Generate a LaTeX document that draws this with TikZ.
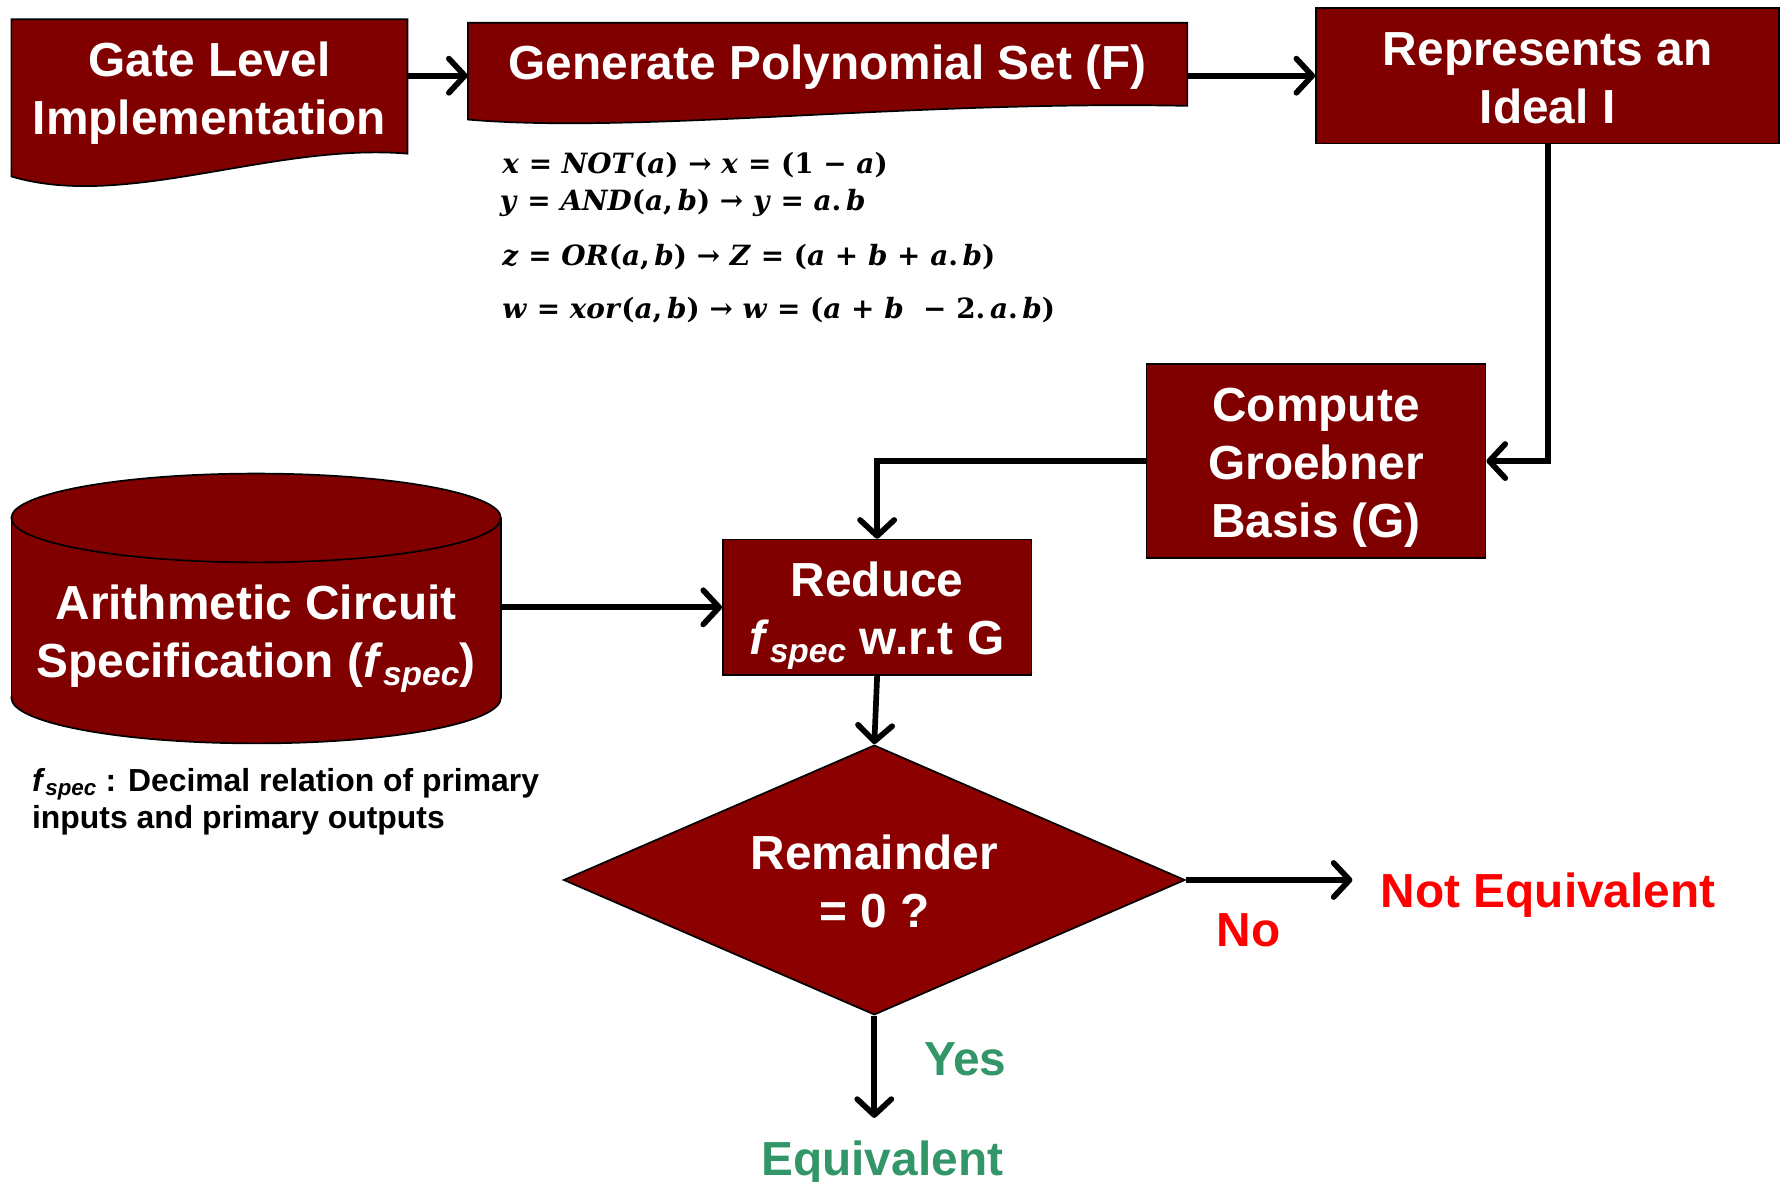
\documentclass[tikz,border=0pt]{standalone}
\usepackage[no-math]{fontspec}
\setmainfont{Liberation Sans}
\newfontfamily\eqfont{DejaVu Serif}
\usetikzlibrary{arrows.meta,shapes.geometric,calc}
\definecolor{boxred}{RGB}{128,0,0}
\definecolor{diared}{RGB}{140,0,0}
\definecolor{yesgreen}{RGB}{50,150,105}
\definecolor{nored}{RGB}{255,0,0}
\newcommand{\fsub}{\textit{f}\textsubscript{\textit{spec}}}
\newcommand{\mv}[1]{\textit{#1}}
\begin{document}
\begin{tikzpicture}[x=1pt,y=-1pt,
  big/.style={font=\fontsize{42}{51}\selectfont\bfseries, text=white, align=center, inner sep=0pt},
  label/.style={font=\fontsize{42}{51}\selectfont\bfseries, inner sep=0pt, anchor=base},
  blockbox/.style={draw=black, line width=1.5pt, fill=boxred},
  outline/.style={fill=boxred, draw=black, line width=1.5pt},
  arr/.style={line width=5pt, -{Straight Barb[length=14pt,width=30pt,round]}},
  eqn/.style={anchor=base west, inner sep=0pt, font=\eqfont\fontsize{24.5}{29}\selectfont\bfseries},
  note/.style={anchor=base west, inner sep=0pt, font=\fontsize{28}{34}\selectfont\bfseries},
]
\useasboundingbox (0,0) rectangle (1568,1038);

% document-shaped blocks
\path[outline] (10,17) -- (358,17) -- (358,135) .. controls (240,125) and (110,185) .. (10,155) -- cycle;
\node[big, minimum width=348pt] (gate) at (184,82) {Gate Level\\Implementation};

\path[outline] (411,20) -- (1043,20) -- (1043,93) .. controls (800,88) and (560,118) .. (411,105) -- cycle;
\node[big, minimum width=632pt] (gen) at (727,59) {Generate Polynomial Set (F)};

% rectangular blocks
\node[blockbox, minimum width=407pt, minimum height=119pt] (rep) at (1359.5,66.5) {};
\node[big] (reptext) at ($(rep.center)+(0,2)$) {Represents an\\Ideal I};
\node[blockbox, minimum width=298pt, minimum height=170pt] (comp) at (1156,405) {};
\node[big] (comptext) at ($(comp.center)+(0,6)$) {Compute\\Groebner\\Basis (G)};
\node[blockbox, minimum width=271pt, minimum height=119pt] (red) at (770.5,533.5) {};
\node[big] (redtext) at ($(red.center)+(0,7)$) {Reduce\\\fsub{} w.r.t G};

% specification cylinder
\filldraw[outline] (225,613) ellipse [x radius=215, y radius=40];
\fill[boxred] (10,455) rectangle (440,613);
\draw[line width=1.5pt] (10,455) -- (10,613) (440,455) -- (440,613);
\filldraw[outline] (225,455) ellipse [x radius=215, y radius=39];
\node[big, minimum width=430pt] (spec) at (225,561) {Arithmetic Circuit\\Specification (\fsub)};

% decision
\node[diamond, aspect=2.3, draw=black, line width=1.5pt, fill=diared, inner sep=0pt,
      minimum width=546pt, minimum height=237pt] (dec) at (768,773) {};
\node[big] (dectext) at ($(dec.center)+(0,1)$) {Remainder\\= 0 ?};

% polynomial forms of the gates
\node[eqn] (eqa) at (441,152) {\mv{x} = \mv{NOT}(\mv{a}) → \mv{x} = (1 − \mv{a})};
\node[eqn] (eqb) at (439,185) {\mv{y} = \mv{AND}(\mv{a},\,\mv{b}) → \mv{y} = \mv{a}.\,\mv{b}};
\node[eqn] (eqc) at (441,233) {\mv{z} = \mv{OR}(\mv{a},\,\mv{b}) → \mv{Z} = (\mv{a} + \mv{b} + \mv{a}.\,\mv{b})};
\node[eqn] (eqd) at (441,280) {\mv{w} = \mv{xor}(\mv{a},\,\mv{b}) → \mv{w} = (\mv{a} + \mv{b} \ − 2.\,\mv{a}.\,\mv{b})};

% note under the cylinder
\node[note] (notea) at (28,695) {\fsub{} : Decimal relation of primary};
\node[note] (noteb) at (28,728) {inputs and primary outputs};

% outcomes
\node[label, text=nored] (noteq) at (1360,797) {Not Equivalent};
\node[label, text=nored] (no) at (1097,831) {No};
\node[label, text=yesgreen] (yes) at (848,945) {Yes};
\node[label, text=yesgreen] (eq) at (775,1033) {Equivalent};
\coordinate (noin) at (1188,773);
\coordinate (eqin) at (768,982);

% connectors
\draw[arr] (gate.east |- rep.west) -- (gen.west |- rep.west);
\draw[arr] (gen.east |- rep.west) -- (rep.west);
\draw[arr] (rep.south) |- (comp.east);
\draw[arr] (comp.west) -| (red.north);
\draw[arr] (spec.east |- red.west) -- (red.west);
\draw[arr] (red.south) -- (dec.north);
\draw[arr] (dec.east) -- (noin);
\draw[arr] (dec.south) -- (eqin);
\end{tikzpicture}
\end{document}
